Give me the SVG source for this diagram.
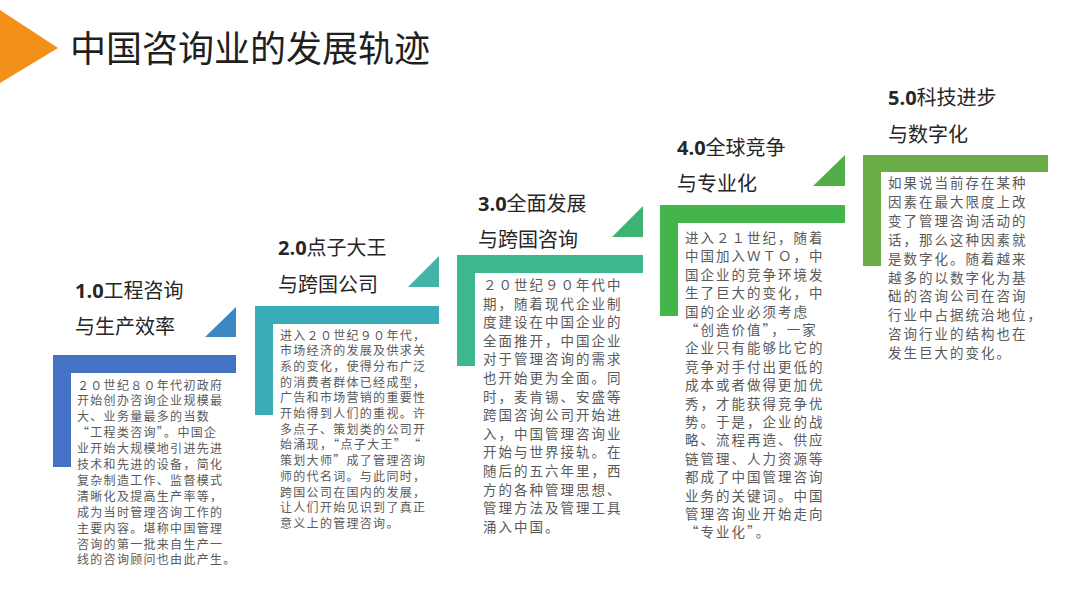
<svg xmlns="http://www.w3.org/2000/svg" width="1080" height="608" viewBox="0 0 1080 608">
<style>
.title{font-family:"Noto Sans CJK SC","Noto Sans",sans-serif;font-size:36px;fill:#1f1f1f}
.head{font-family:"Noto Sans CJK SC","Noto Sans",sans-serif;font-size:20px;fill:#262626}
.head .n{font-family:"Open Sans","Noto Sans",sans-serif;font-weight:bold}
.body{font-family:"Noto Sans CJK SC",sans-serif;fill:#5a5a5a;font-feature-settings:"fwid" 1}
.s{font-size:12px;letter-spacing:1.3px}
.m{font-size:13.5px;letter-spacing:2px}
</style>
<rect width="1080" height="608" fill="#ffffff"/>
<g id="title">
<polygon points="0,10 58,48 0,83" fill="#F39019"/>
<text class="title" x="70" y="62">中国咨询业的发展轨迹</text>
</g>
<g id="step1">
<path d="M53,355 H236 V373 H71 V467 H53 Z" fill="#4472C4"/>
<polygon points="205,337 236,337 236,307" fill="#3C87C2"/>
<text class="head" x="75" y="298"><tspan class="n">1.0</tspan>工程咨询</text>
<text class="head" x="75" y="334">与生产效率</text>
<text class="body s">
<tspan x="77" y="389.5">２０世纪８０年代初政府</tspan>
<tspan x="77" dy="15.9">开始创办咨询企业规模最</tspan>
<tspan x="77" dy="15.9">大、业务量最多的当数</tspan>
<tspan x="77" dy="15.9">“工程类咨询”。中国企</tspan>
<tspan x="77" dy="15.9">业开始大规模地引进先进</tspan>
<tspan x="77" dy="15.9">技术和先进的设备，简化</tspan>
<tspan x="77" dy="15.9">复杂制造工作、监督模式</tspan>
<tspan x="77" dy="15.9">清晰化及提高生产率等，</tspan>
<tspan x="77" dy="15.9">成为当时管理咨询工作的</tspan>
<tspan x="77" dy="15.9">主要内容。堪称中国管理</tspan>
<tspan x="77" dy="15.9">咨询的第一批来自生产一</tspan>
<tspan x="77" dy="15.9">线的咨询顾问也由此产生。</tspan>
</text>
</g>
<g id="step2">
<path d="M255,306 H439 V324 H273 V415 H255 Z" fill="#3AACB8"/>
<polygon points="408,287 439,287 439,256" fill="#42B4A6"/>
<text class="head" x="278" y="255"><tspan class="n">2.0</tspan>点子大王</text>
<text class="head" x="278" y="292">与跨国公司</text>
<text class="body s">
<tspan x="280" y="339.5">进入２０世纪９０年代，</tspan>
<tspan x="280" dy="15.7">市场经济的发展及供求关</tspan>
<tspan x="280" dy="15.7">系的变化，使得分布广泛</tspan>
<tspan x="280" dy="15.7">的消费者群体已经成型，</tspan>
<tspan x="280" dy="15.7">广告和市场营销的重要性</tspan>
<tspan x="280" dy="15.7">开始得到人们的重视。许</tspan>
<tspan x="280" dy="15.7">多点子、策划类的公司开</tspan>
<tspan x="280" dy="15.7">始涌现，“点子大王”　“</tspan>
<tspan x="280" dy="15.7">策划大师”成了管理咨询</tspan>
<tspan x="280" dy="15.7">师的代名词。与此同时，</tspan>
<tspan x="280" dy="15.7">跨国公司在国内的发展，</tspan>
<tspan x="280" dy="15.7">让人们开始见识到了真正</tspan>
<tspan x="280" dy="15.7">意义上的管理咨询。</tspan>
</text>
</g>
<g id="step3">
<path d="M457,255 H643 V273 H475 V366 H457 Z" fill="#3DB88C"/>
<polygon points="612,237 643,237 643,206" fill="#3DB472"/>
<text class="head" x="478" y="211"><tspan class="n">3.0</tspan>全面发展</text>
<text class="head" x="478" y="247">与跨国咨询</text>
<text class="body m">
<tspan x="483" y="290">２０世纪９０年代中</tspan>
<tspan x="483" dy="18.6">期，随着现代企业制</tspan>
<tspan x="483" dy="18.6">度建设在中国企业的</tspan>
<tspan x="483" dy="18.6">全面推开，中国企业</tspan>
<tspan x="483" dy="18.6">对于管理咨询的需求</tspan>
<tspan x="483" dy="18.6">也开始更为全面。同</tspan>
<tspan x="483" dy="18.6">时，麦肯锡、安盛等</tspan>
<tspan x="483" dy="18.6">跨国咨询公司开始进</tspan>
<tspan x="483" dy="18.6">入，中国管理咨询业</tspan>
<tspan x="483" dy="18.6">开始与世界接轨。在</tspan>
<tspan x="483" dy="18.6">随后的五六年里，西</tspan>
<tspan x="483" dy="18.6">方的各种管理思想、</tspan>
<tspan x="483" dy="18.6">管理方法及管理工具</tspan>
<tspan x="483" dy="18.6">涌入中国。</tspan>
</text>
</g>
<g id="step4">
<path d="M660,205 H845 V223 H678 V316 H660 Z" fill="#44B54A"/>
<polygon points="813,186 845,186 845,155" fill="#52AE48"/>
<text class="head" x="677" y="155"><tspan class="n">4.0</tspan>全球竞争</text>
<text class="head" x="677" y="191">与专业化</text>
<text class="body m">
<tspan x="685" y="243">进入２１世纪，随着</tspan>
<tspan x="685" dy="18.4">中国加入ＷＴＯ，中</tspan>
<tspan x="685" dy="18.4">国企业的竞争环境发</tspan>
<tspan x="685" dy="18.4">生了巨大的变化，中</tspan>
<tspan x="685" dy="18.4">国的企业必须考虑</tspan>
<tspan x="685" dy="18.4">“创造价值”，一家</tspan>
<tspan x="685" dy="18.4">企业只有能够比它的</tspan>
<tspan x="685" dy="18.4">竞争对手付出更低的</tspan>
<tspan x="685" dy="18.4">成本或者做得更加优</tspan>
<tspan x="685" dy="18.4">秀，才能获得竞争优</tspan>
<tspan x="685" dy="18.4">势。于是，企业的战</tspan>
<tspan x="685" dy="18.4">略、流程再造、供应</tspan>
<tspan x="685" dy="18.4">链管理、人力资源等</tspan>
<tspan x="685" dy="18.4">都成了中国管理咨询</tspan>
<tspan x="685" dy="18.4">业务的关键词。中国</tspan>
<tspan x="685" dy="18.4">管理咨询业开始走向</tspan>
<tspan x="685" dy="18.4">“专业化”。</tspan>
</text>
</g>
<g id="step5">
<path d="M863,155 H1048 V172 H881 V266 H863 Z" fill="#6AAC46"/>
<text class="head" x="888" y="105"><tspan class="n">5.0</tspan>科技进步</text>
<text class="head" x="888" y="142">与数字化</text>
<text class="body m">
<tspan x="888" y="188">如果说当前存在某种</tspan>
<tspan x="888" dy="18.9">因素在最大限度上改</tspan>
<tspan x="888" dy="18.9">变了管理咨询活动的</tspan>
<tspan x="888" dy="18.9">话，那么这种因素就</tspan>
<tspan x="888" dy="18.9">是数字化。随着越来</tspan>
<tspan x="888" dy="18.9">越多的以数字化为基</tspan>
<tspan x="888" dy="18.9">础的咨询公司在咨询</tspan>
<tspan x="888" dy="18.9">行业中占据统治地位，</tspan>
<tspan x="888" dy="18.9">咨询行业的结构也在</tspan>
<tspan x="888" dy="18.9">发生巨大的变化。</tspan>
</text>
</g>
</svg>
